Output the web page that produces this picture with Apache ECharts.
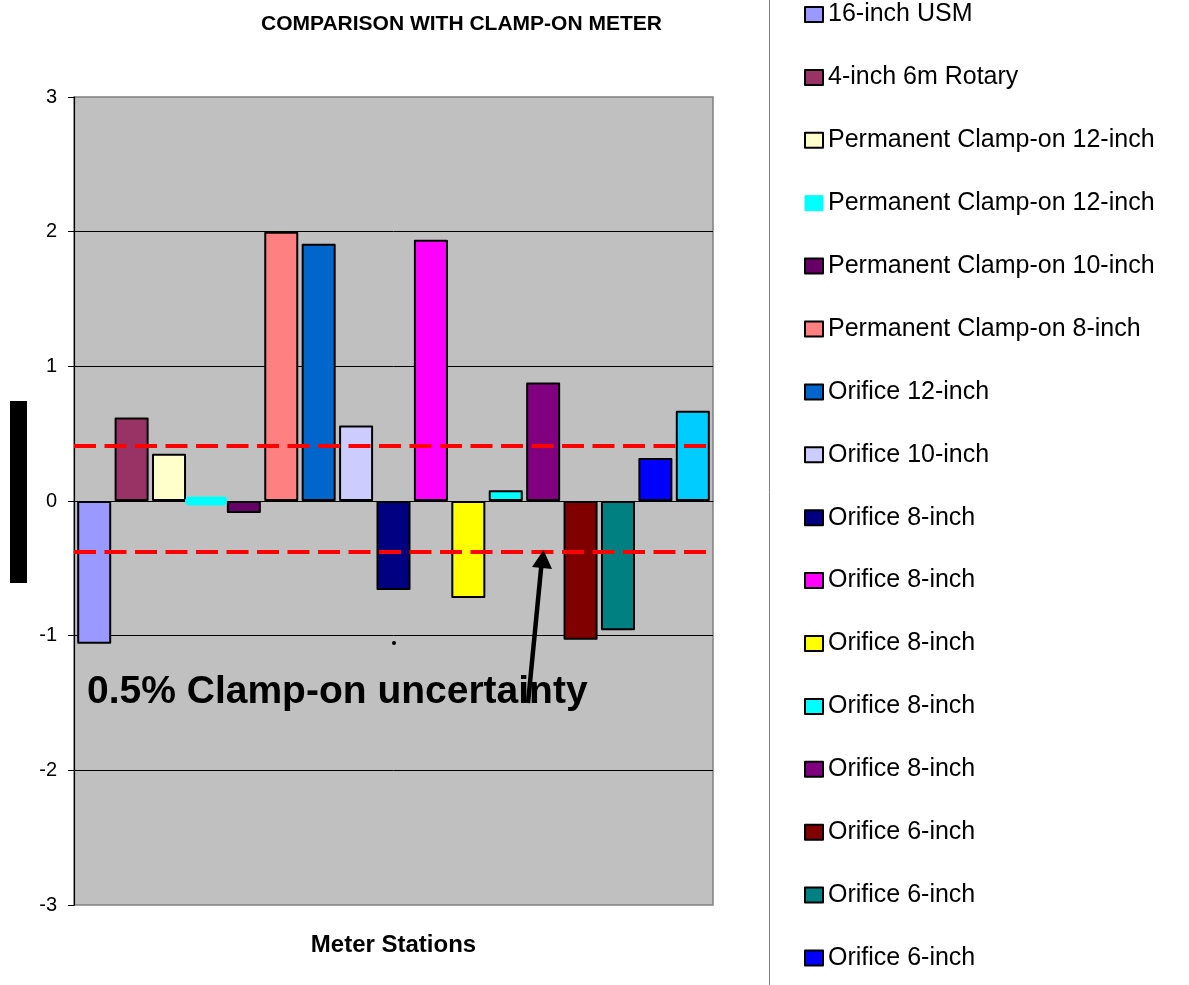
<!DOCTYPE html>
<html>
<head>
<meta charset="utf-8">
<script src="https://cdn.jsdelivr.net/npm/echarts@6/dist/echarts.min.js"></script>
<style>
html,body{margin:0;padding:0;background:#fff;}
#chart{width:1189px;height:985px;}
</style>
</head>
<body>
<div id="chart"></div>
<script>
// ---- data ----
const categories = [''];
const stationNames = [
  '16-inch USM', '4-inch 6m Rotary', 'Permanent Clamp-on 12-inch', 'Permanent Clamp-on 12-inch ',
  'Permanent Clamp-on 10-inch', 'Permanent Clamp-on 8-inch', 'Orifice 12-inch', 'Orifice 10-inch',
  'Orifice 8-inch', 'Orifice 8-inch ', 'Orifice 8-inch  ', 'Orifice 8-inch   ', 'Orifice 8-inch    ',
  'Orifice 6-inch', 'Orifice 6-inch ', 'Orifice 6-inch  ', 'Station 17'
];
const deviations = [-1.06, 0.62, 0.35, 0.0, -0.09, 2.0, 1.91, 0.56, -0.66, 1.94, -0.72, 0.08, 0.88, -1.03, -0.96, 0.32, 0.67];
const barColors = ['#9999FF', '#993366', '#FFFFCC', '#00FFFF', '#660066', '#FF8080', '#0066CC', '#CCCCFF',
  '#000080', '#FF00FF', '#FFFF00', '#00FFFF', '#800080', '#800000', '#008080', '#0000FF', '#00CCFF'];
const uncertaintyBand = [0.41, -0.375];
const yTicks = { min: -3, max: 3, interval: 1 };
const legendCount = 16; // only 16 entries are visible in the original

const FONT = 'Liberation Sans, Arial, sans-serif';
const chart = echarts.init(document.getElementById('chart'), null, { renderer: 'canvas' });

const series = stationNames.map((name, i) => {
  const special = i === 3;
  const s = {
    name: name,
    type: 'bar',
    xAxisIndex: 0,
    barGap: '10%',
    barCategoryGap: '1%',
    data: [deviations[i]],
    itemStyle: {
      color: barColors[i],
      borderColor: special ? barColors[i] : '#000',
      borderWidth: special ? 9 : 2,
      borderJoin: 'round'
    },
    emphasis: { disabled: true }
  };
  if (i === 0) {
    s.markLine = {
      silent: true,
      symbol: 'none',
      label: { show: false },
      lineStyle: { color: '#FF0000', width: 4, type: [22, 8.5] },
      data: uncertaintyBand.map(v => ({ yAxis: v }))
    };
  }
  return s;
});

const legendData = stationNames.slice(0, legendCount).map((name, i) => {
  if (i === 3) return { name: name, itemStyle: { borderColor: '#00FFFF', borderWidth: 1 } };
  return { name: name };
});

chart.setOption({
  animation: false,
  backgroundColor: '#fff',
  title: {
    text: 'COMPARISON WITH CLAMP-ON METER',
    left: 256, top: 9,
    textStyle: { fontFamily: FONT, fontSize: 21, fontWeight: 'bold', color: '#000' }
  },
  legend: {
    orient: 'vertical',
    left: 799, top: -3,
    itemWidth: 18, itemHeight: 15,
    itemGap: 37.9,
    icon: 'rect',
    selectedMode: false,
    data: legendData,
    textStyle: { fontFamily: FONT, fontSize: 25, lineHeight: 25, color: '#000' }
  },
  grid: {
    left: 74, right: 476, top: 97, bottom: 80,
    show: true, backgroundColor: '#C0C0C0', borderColor: '#808080', borderWidth: 1.5
  },
  xAxis: [{
    type: 'category',
    data: categories,
    axisLine: { onZero: true, lineStyle: { color: '#000', width: 1.2 } },
    axisTick: { show: false },
    axisLabel: { show: false },
    splitLine: { show: false }
  }, {
    type: 'category',
    position: 'bottom',
    data: categories,
    axisLine: { show: false, onZero: false },
    axisTick: { show: false },
    axisLabel: { show: false },
    name: 'Meter Stations',
    nameLocation: 'middle',
    nameGap: 28,
    nameTextStyle: { fontFamily: FONT, fontSize: 24, fontWeight: 'bold', color: '#000' }
  }],
  yAxis: {
    type: 'value',
    min: yTicks.min, max: yTicks.max, interval: yTicks.interval,
    axisLine: { show: true, lineStyle: { color: '#000', width: 1.2 } },
    axisTick: { show: true, length: 6, lineStyle: { color: '#000' } },
    axisLabel: { fontFamily: FONT, fontSize: 20, color: '#000', margin: 17 },
    splitLine: { show: true, showMinLine: false, showMaxLine: false, lineStyle: { color: '#000', width: 1 } }
  },
  series: series,
  graphic: [
    { type: 'line', shape: { x1: 769.5, y1: 0, x2: 769.5, y2: 985 }, style: { stroke: '#808080', lineWidth: 1 }, silent: true },
    { type: 'rect', shape: { x: 10, y: 401, width: 17, height: 182 }, style: { fill: '#000' }, silent: true },
    { type: 'circle', shape: { cx: 394, cy: 643, r: 2 }, style: { fill: '#000' }, silent: true },
    { type: 'text', left: 87, top: 673, z: 10,
      style: { text: '0.5% Clamp-on uncertainty', fontFamily: FONT, fontSize: 39, fontWeight: 'bold', fill: '#000' } },
    { type: 'line', z: 11, shape: { x1: 528, y1: 703, x2: 541.5, y2: 564 }, style: { stroke: '#000', lineWidth: 4.5 }, silent: true },
    { type: 'polygon', z: 11, shape: { points: [[543.5, 550], [532, 567], [552, 569]] }, style: { fill: '#000' }, silent: true }
  ]
});
</script>
</body>
</html>
